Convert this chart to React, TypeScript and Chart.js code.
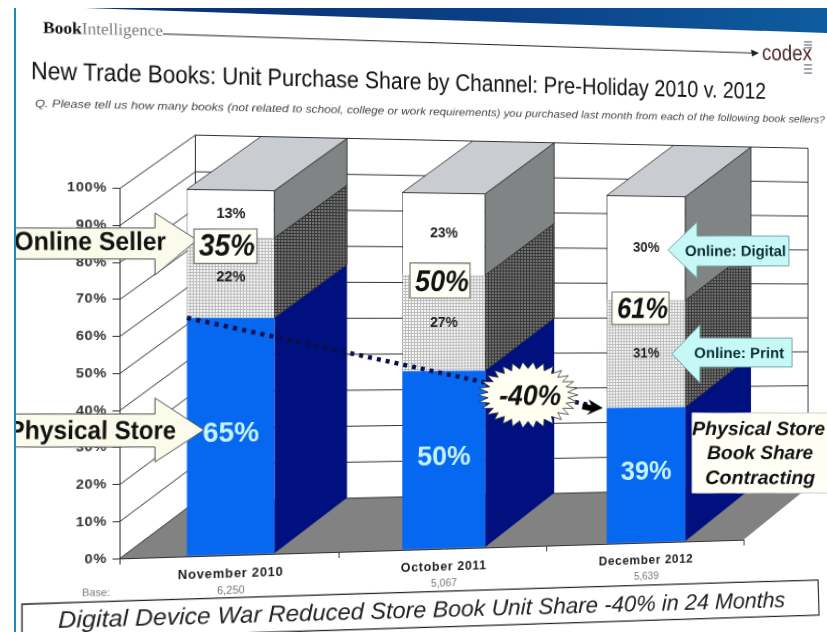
import React, { useEffect, useRef } from "react";
import { Chart, registerables } from "chart.js";

Chart.register(...registerables);

// Survey results, share of purchased book units per channel
const periods = ["November 2010", "October 2011", "December 2012"];
const baseCounts = ["6,250", "5,067", "5,639"];
const physicalStore = [65, 50, 39];
const onlinePrint = [22, 27, 31];
const onlineDigital = [13, 23, 30];

const SANS = '"Liberation Sans", Arial, sans-serif';
const SERIF = '"Liberation Serif", serif';

// The slide is viewed slightly from the left: a projective tilt about (CX, CY)
const TILT = 1 / 8000;
const CX = 400;
const CY = 311;
const DEPTH_X = 71;
const DEPTH_Y = -53;

// Viewport position to the position on the untilted slide
function P(x: number, y: number): [number, number] {
  const w = 1 / (1 - TILT * (x - CX));
  return [CX + (x - CX) * w, CY + (y - CY) * w];
}
const pts = (list: number[][]) => list.map(([x, y]) => P(x, y).join(",")).join(" ");

function hatch(bg: string, line: string) {
  const c = document.createElement("canvas");
  c.width = 3;
  c.height = 3;
  const g = c.getContext("2d")!;
  g.fillStyle = bg;
  g.fillRect(0, 0, 3, 3);
  g.fillStyle = line;
  g.fillRect(0, 0, 3, 1);
  g.fillRect(0, 0, 1, 3);
  return g.createPattern(c, "repeat")!;
}

const poly = (ctx: CanvasRenderingContext2D, p: number[][], fill: any, stroke?: string) => {
  ctx.beginPath();
  p.forEach(([x, y], i) => (i ? ctx.lineTo(x, y) : ctx.moveTo(x, y)));
  ctx.closePath();
  ctx.fillStyle = fill;
  ctx.fill();
  if (stroke) {
    ctx.strokeStyle = stroke;
    ctx.lineWidth = 0.8;
    ctx.stroke();
  }
};

const box3d = {
  id: "box3d",
  beforeDraw(chart: any) {
    // slightly tracked axis lettering
    chart.ctx.letterSpacing = "0.7px";
  },
  beforeDatasetsDraw(chart: any) {
    const { ctx, chartArea: a, scales } = chart;
    const y = scales.y;
    ctx.save();
    // floor of the box
    poly(
      ctx,
      [
        [a.left, a.bottom],
        [a.right, a.bottom],
        [a.right + DEPTH_X, a.bottom + DEPTH_Y],
        [a.left + DEPTH_X, a.bottom + DEPTH_Y],
      ],
      "#828282"
    );
    // walls: one rung per tick, running along the side wall and then the back wall
    ctx.strokeStyle = "#333";
    ctx.lineWidth = 1;
    y.ticks.forEach((t: any) => {
      const py = y.getPixelForValue(t.value);
      ctx.beginPath();
      ctx.moveTo(a.left, py);
      ctx.lineTo(a.left + DEPTH_X, py + DEPTH_Y);
      ctx.lineTo(a.right + DEPTH_X, py + DEPTH_Y);
      ctx.stroke();
    });
    ctx.beginPath();
    ctx.moveTo(a.left + DEPTH_X, a.top + DEPTH_Y);
    ctx.lineTo(a.left + DEPTH_X, a.bottom + DEPTH_Y);
    ctx.moveTo(a.right + DEPTH_X, a.top + DEPTH_Y);
    ctx.lineTo(a.right + DEPTH_X, a.bottom + DEPTH_Y);
    ctx.stroke();

    // side and top faces of every stack
    const sideFaces = ["#00107e", hatch("#767676", "#363636"), "#808484"];
    chart.data.datasets.forEach((_: any, di: number) => {
      chart.getDatasetMeta(di).data.forEach((bar: any) => {
        const r = bar.x + bar.width / 2;
        const l = bar.x - bar.width / 2;
        poly(
          ctx,
          [
            [r, bar.y],
            [r + DEPTH_X, bar.y + DEPTH_Y],
            [r + DEPTH_X, bar.base + DEPTH_Y],
            [r, bar.base],
          ],
          sideFaces[di],
          di === 0 ? undefined : "#222"
        );
        if (di === 2) {
          poly(
            ctx,
            [
              [l, bar.y],
              [l + DEPTH_X, bar.y + DEPTH_Y],
              [r + DEPTH_X, bar.y + DEPTH_Y],
              [r, bar.y],
            ],
            "#c9ccd1",
            "#222"
          );
        }
      });
    });
    ctx.restore();
  },
  afterDatasetsDraw(chart: any) {
    const { ctx, scales } = chart;
    ctx.save();
    ctx.textAlign = "center";
    ctx.textBaseline = "middle";
    ctx.letterSpacing = "0px";
    // value labels inside the segments
    chart.data.datasets.forEach((ds: any, di: number) => {
      chart.getDatasetMeta(di).data.forEach((bar: any, i: number) => {
        ctx.font = di === 0 ? `bold 27px ${SANS}` : `bold 14px ${SANS}`;
        ctx.fillStyle = di === 0 ? "#c6f3ff" : "#222";
        ctx.fillText(`${ds.data[i]}%`, bar.x, (bar.y + bar.base) / 2 - (di === 0 ? 2 : 0));
      });
    });
    // respondent counts under the period names
    ctx.font = `10.5px ${SANS}`;
    ctx.fillStyle = "#777";
    baseCounts.forEach((b, i) => ctx.fillText(b, scales.x.getPixelForValue(i), 585));

    // dotted trend over the tops of the store segments
    const first = chart.getDatasetMeta(0).data[0];
    const last = chart.getDatasetMeta(0).data[2];
    const x0 = first.x - first.width / 2;
    const y0 = first.y;
    const x1 = last.x - last.width / 2 - 4;
    const y1 = last.y;
    ctx.strokeStyle = "#0a0f4a";
    ctx.lineWidth = 4.5;
    ctx.setLineDash([4, 5]);
    ctx.beginPath();
    ctx.moveTo(x0, y0);
    ctx.lineTo(x1 - 14, y1 - 3.2);
    ctx.stroke();
    ctx.setLineDash([]);
    poly(
      ctx,
      [
        [x1, y1],
        [x1 - 15, y1 - 9],
        [x1 - 12, y1 - 3],
        [x1 - 21, y1 - 5],
        [x1 - 22, y1 + 1],
        [x1 - 13, y1 + 3],
        [x1 - 17, y1 + 7],
      ],
      "#000"
    );
    ctx.restore();
  },
};

// A line of text fitted between two baseline points given in viewport pixels
function Fit(props: {
  from: number[];
  to: number[];
  size: number;
  fill?: string;
  weight?: string;
  italic?: boolean;
  family?: string;
  children: React.ReactNode;
}) {
  const [x0, y0] = P(props.from[0], props.from[1]);
  const [x1, y1] = P(props.to[0], props.to[1]);
  const len = Math.hypot(x1 - x0, y1 - y0);
  const deg = (Math.atan2(y1 - y0, x1 - x0) * 180) / Math.PI;
  return (
    <text
      transform={`translate(${x0} ${y0}) rotate(${deg})`}
      textLength={len}
      lengthAdjust="spacingAndGlyphs"
      fontFamily={props.family || SANS}
      fontSize={props.size}
      fontWeight={props.weight || "normal"}
      fontStyle={props.italic ? "italic" : "normal"}
      fill={props.fill || "#111"}
    >
      {props.children}
    </text>
  );
}

function burst(cx: number, cy: number, rx: number, ry: number, spikes: number) {
  const out: number[][] = [];
  for (let i = 0; i < spikes * 2; i++) {
    const t = (i * Math.PI) / spikes;
    const k = i % 2 ? 0.8 : 1;
    out.push([cx + Math.cos(t) * rx * k, cy + Math.sin(t) * ry * k]);
  }
  return out;
}

const CREAM = "#fbfbec";
const AQUA = "#c6f8f8";
const stripes = [42, 45, 48, 65, 69, 73];

function Overlay() {
  return (
    <svg width={880} height={680} style={{ position: "absolute", left: 0, top: 0 }}>
      {/* header */}
      <Fit from={[43, 33]} to={[163, 36]} size={16} family={SERIF} fill="#777">
        <tspan fontWeight="bold" fill="#111">Book</tspan>Intelligence
      </Fit>
      <polyline points={pts([[163, 34], [752, 53]])} fill="none" stroke="#222" strokeWidth={1} />
      <polygon points={pts([[759, 53.2], [751, 49.5], [752, 56.5]])} fill="#222" />
      <Fit from={[762, 60]} to={[812, 60.5]} size={23} fill="#4a2a2a">codex</Fit>
      {stripes.map((sy) => (
        <polyline key={sy} points={pts([[804, sy], [812, sy]])} stroke="#667" strokeWidth={1.2} fill="none" />
      ))}
      <Fit from={[31, 79]} to={[766, 99]} size={24} fill="#111">
        New Trade Books: Unit Purchase Share by Channel: Pre-Holiday 2010 v. 2012
      </Fit>
      <Fit from={[35, 107]} to={[825, 123]} size={10.5} italic fill="#444">
        Q. Please tell us how many books (not related to school, college or work requirements) you purchased last month from each of the following book sellers?
      </Fit>

      {/* channel arrows on the left */}
      <polygon
        points={pts([[10, 228], [155, 228], [155, 213], [197, 240], [155, 275], [155, 259], [10, 259]])}
        fill={CREAM}
        stroke="#555"
      />
      <Fit from={[14, 250]} to={[166, 250]} size={25} weight="bold">Online Seller</Fit>
      <polygon
        points={pts([[10, 414], [155, 414], [155, 398], [204, 430], [155, 462], [155, 447], [10, 447]])}
        fill={CREAM}
        stroke="#555"
      />
      <Fit from={[8, 439]} to={[176, 439]} size={25} weight="bold">Physical Store</Fit>

      {/* online totals */}
      {[
        { r: [194, 229, 257, 263.5], t: "35%", f: [199, 255], b: 255.5 },
        { r: [410, 263, 470, 298], t: "50%", f: [415, 469], b: 291 },
        { r: [612, 292, 669, 324.5], t: "61%", f: [617, 668], b: 318 },
      ].map(({ r, t, f, b }) => (
        <g key={t}>
          <polygon
            points={pts([[r[0], r[1]], [r[2], r[1]], [r[2], r[3]], [r[0], r[3]]])}
            fill="#fffff6"
            stroke="#777"
            strokeWidth={1.2}
          />
          <Fit from={[f[0], b]} to={[f[1], b]} size={30} weight="bold" italic>{t}</Fit>
        </g>
      ))}

      {/* format callouts */}
      <polygon
        points={pts([[668, 250], [697, 222], [697, 236], [789, 236], [789, 266], [697, 266], [697, 278]])}
        fill={AQUA}
        stroke="#6f9f9f"
      />
      <Fit from={[685, 256]} to={[786, 256]} size={15.5} weight="bold" fill="#0c2e33">Online: Digital</Fit>
      <polygon
        points={pts([[672, 354], [700, 325], [700, 338], [792, 338], [792, 367], [700, 367], [700, 383]])}
        fill={AQUA}
        stroke="#6f9f9f"
      />
      <Fit from={[694, 358]} to={[784, 358]} size={15.5} weight="bold" fill="#0c2e33">Online: Print</Fit>

      {/* change badge */}
      <polygon points={pts(burst(528, 395, 50, 33, 30))} fill="#fffff2" stroke="#333" strokeWidth={0.8} />
      <Fit from={[499, 405]} to={[561, 405]} size={29} weight="bold" italic>-40%</Fit>

      {/* takeaway panel */}
      <polygon points={pts([[692, 413], [830, 413], [830, 493], [692, 493]])} fill="#fffff6" stroke="#ccc" />
      <Fit from={[692, 435]} to={[825, 435]} size={20} weight="bold" italic>Physical Store</Fit>
      <Fit from={[707, 459]} to={[813, 459]} size={20} weight="bold" italic>Book Share</Fit>
      <Fit from={[705, 484]} to={[815, 484]} size={20} weight="bold" italic>Contracting</Fit>

      {/* footer */}
      <Fit from={[82, 596]} to={[110, 596]} size={10.5} fill="#777">Base:</Fit>
      <polygon points={pts([[22, 604], [818, 580], [819, 615], [22, 640]])} fill="#fff" stroke="#222" strokeWidth={1.2} />
      <Fit from={[58, 628]} to={[785, 607]} size={23} italic fill="#222">
        Digital Device War Reduced Store Book Unit Share -40% in 24 Months
      </Fit>
    </svg>
  );
}

export default function App() {
  const canvasRef = useRef<HTMLCanvasElement>(null);

  useEffect(() => {
    const chart = new Chart(canvasRef.current!, {
      type: "bar",
      data: {
        labels: periods,
        datasets: [
          { label: "Physical store", data: physicalStore, backgroundColor: "#0668f0", borderWidth: 0 },
          { label: "Online: print", data: onlinePrint, backgroundColor: hatch("#f6f6f6", "#bcbcbc"), borderWidth: 0.6, borderColor: "#555" },
          { label: "Online: digital", data: onlineDigital, backgroundColor: "#ffffff", borderWidth: 0.8, borderColor: "#222" },
        ],
      },
      options: {
        responsive: false,
        animation: false,
        events: [],
        layout: { padding: { left: 0, right: 121, top: 192.5, bottom: 100 } },
        plugins: { legend: { display: false }, tooltip: { enabled: false } },
        datasets: { bar: { barPercentage: 0.4, categoryPercentage: 1 } },
        scales: {
          x: {
            stacked: true,
            afterFit: (s: any) => { s.height = 30; },
            grid: { drawOnChartArea: false, tickLength: 6, color: "#333", offset: true },
            border: { color: "#333", width: 1 },
            ticks: { color: "#222", padding: 5, maxRotation: 0, font: { family: SANS, size: 12.5, weight: "bold" } },
          },
          y: {
            stacked: true,
            min: 0,
            max: 100,
            afterFit: (s: any) => { s.width = 129.5; },
            grid: { drawOnChartArea: false, tickLength: 7, color: "#333" },
            border: { color: "#333", width: 1 },
            ticks: {
              stepSize: 10,
              color: "#333",
              padding: 5,
              font: { family: SANS, size: 13.5, weight: "bold" },
              callback: (v: any) => `${v}%`,
            },
          },
        },
      },
      plugins: [box3d],
    } as any);
    return () => chart.destroy();
  }, []);

  return (
    <div style={{ position: "fixed", left: 0, top: 0, width: 827, height: 632, overflow: "hidden", background: "#fff" }}>
      <div
        style={{
          position: "absolute",
          left: 0,
          top: 0,
          width: 880,
          height: 680,
          transformOrigin: `${CX}px ${CY}px`,
          transform: `matrix3d(1,0,0,${TILT}, 0,1,0,0, 0,0,1,0, 0,0,0,1)`,
        }}
      >
        <canvas ref={canvasRef} width={880} height={680} style={{ position: "absolute", left: 0, top: 0 }} />
        <Overlay />
      </div>
      {/* photo frame: header band and left rule, in front of the slide */}
      <svg width={827} height={632} style={{ position: "absolute", left: 0, top: 0 }}>
        <defs>
          <linearGradient id="band" x1="0" x2="1" y1="0" y2="0">
            <stop offset="0" stopColor="#0a2f70" />
            <stop offset="0.55" stopColor="#0b3f86" />
            <stop offset="1" stopColor="#0e5c9f" />
          </linearGradient>
        </defs>
        <polygon points="85,8 827,8 827,33" fill="url(#band)" />
        <rect x={0} y={0} width={14} height={632} fill="#fff" />
        <rect x={14} y={8} width={2} height={624} fill="#1b8cb2" />
      </svg>
    </div>
  );
}
